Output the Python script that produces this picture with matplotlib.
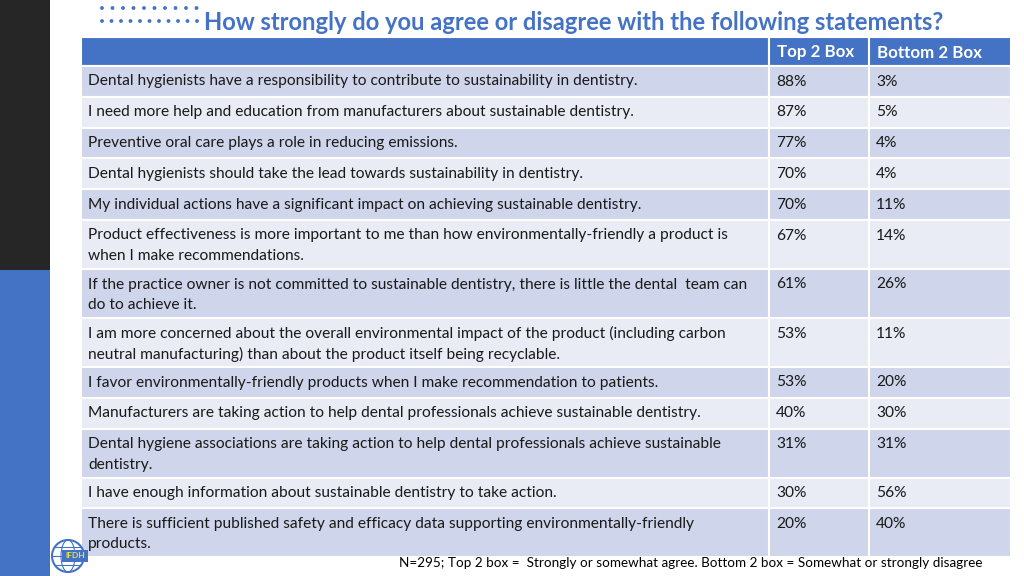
import matplotlib.pyplot as plt
from matplotlib.patches import Rectangle, Circle, Ellipse

# table data
statements = [
    'Dental hygienists have a responsibility to contribute to sustainability in dentistry.',
    'I need more help and education from manufacturers about sustainable dentistry.',
    'Preventive oral care plays a role in reducing emissions.',
    'Dental hygienists should take the lead towards sustainability in dentistry.',
    'My individual actions have a significant impact on achieving sustainable dentistry.',
    'Product effectiveness is more important to me than how environmentally-friendly a product is\nwhen I make recommendations.',
    'If the practice owner is not committed to sustainable dentistry, there is little the dental  team can\ndo to achieve it.',
    'I am more concerned about the overall environmental impact of the product (including carbon\nneutral manufacturing) than about the product itself being recyclable.',
    'I favor environmentally-friendly products when I make recommendation to patients.',
    'Manufacturers are taking action to help dental professionals achieve sustainable dentistry.',
    'Dental hygiene associations are taking action to help dental professionals achieve sustainable\ndentistry.',
    'I have enough information about sustainable dentistry to take action.',
    'There is sufficient published safety and efficacy data supporting environmentally-friendly\nproducts.',
]
top2 = [88, 87, 77, 70, 70, 67, 61, 53, 53, 40, 31, 30, 20]
bottom2 = [3, 5, 4, 4, 11, 14, 26, 11, 20, 30, 31, 56, 40]
col_labels = ['', 'Top 2 Box', 'Bottom 2 Box']

title = 'How strongly do you agree or disagree with the following statements?'
footnote = ('N=295; Top 2 box =  Strongly or somewhat agree. '
            'Bottom 2 box = Somewhat or strongly disagree')

BLUE = '#4472C4'
DARK_ROW = '#CFD5EA'
LIGHT_ROW = '#E9EBF5'
FONT = 'Lato'

fig = plt.figure(figsize=(10.24, 5.76), dpi=100)
ax = fig.add_axes([0, 0, 1, 1])
ax.set_xlim(0, 1024)
ax.set_ylim(576, 0)
ax.axis('off')

# side bar
ax.add_patch(Rectangle((0, 0), 50, 270, color='#262626', lw=0))
ax.add_patch(Rectangle((0, 270), 50, 306, color=BLUE, lw=0))

# dotted decoration + title
for i in range(10):
    ax.add_patch(Circle((102 + i * 10.5, 8), 1.9, color=BLUE, lw=0))
for i in range(11):
    ax.add_patch(Circle((102 + i * 9.5, 21), 1.9, color=BLUE, lw=0))
ax.text(204, 23, title, color=BLUE, fontsize=17.1, fontweight='bold',
        family=FONT, va='center', ha='left')

# table layout
col_x = [81, 769, 869, 1011]
header_top, header_h = 37, 29
line_h = 20.5
single_h = 30.8
extra_h = 18.2

# header
for c in range(3):
    ax.add_patch(Rectangle((col_x[c], header_top), col_x[c + 1] - col_x[c], header_h,
                           facecolor=BLUE, edgecolor='white', lw=1.5))
    if col_labels[c]:
        ax.text(col_x[c] + 8, header_top + header_h / 2 + 1, col_labels[c],
                color='white', fontsize=12.2, fontweight='bold', family=FONT,
                va='center', ha='left')

y = header_top + header_h
for r, (stmt, t, b) in enumerate(zip(statements, top2, bottom2)):
    lines = stmt.split('\n')
    h = single_h + extra_h * (len(lines) - 1)
    fc = DARK_ROW if r % 2 == 0 else LIGHT_ROW
    cells = [lines, ['%d%%' % t], ['%d%%' % b]]
    for c in range(3):
        ax.add_patch(Rectangle((col_x[c], y), col_x[c + 1] - col_x[c], h,
                               facecolor=fc, edgecolor='white', lw=1.5))
        for k, line in enumerate(cells[c]):
            ax.text(col_x[c] + 7, y + 15.5 + k * line_h, line, color='#1a1a1a',
                    fontsize=11.2, family=FONT, va='center', ha='left')
    y += h

# footnote
ax.text(399, 563, footnote, fontsize=9.7, family=FONT, va='center', ha='left',
        color='black')

# logo
ax.add_patch(Circle((68, 556), 16, facecolor='white', edgecolor=BLUE, lw=1.5))
ax.add_patch(Ellipse((68, 556), 14, 32, fill=False, edgecolor=BLUE, lw=0.8))
ax.plot([52, 84], [556, 556], color=BLUE, lw=0.8)
ax.plot([55, 81], [547, 547], color=BLUE, lw=0.8)
ax.plot([55, 81], [565, 565], color=BLUE, lw=0.8)
ax.add_patch(Rectangle((62, 550), 26, 12, facecolor=BLUE, lw=0))
ax.text(75, 556, 'IFDH', color='#e8e04a', fontsize=6, fontweight='bold',
        family=FONT, va='center', ha='center')

fig.savefig('out.png', dpi=100)
